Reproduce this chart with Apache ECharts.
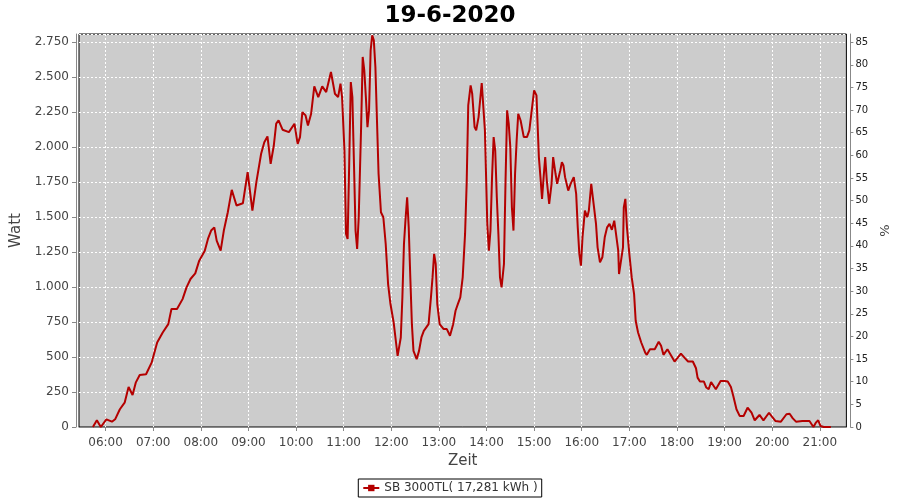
<!DOCTYPE html>
<html>
<head>
<meta charset="utf-8">
<script src="https://cdn.jsdelivr.net/npm/echarts@6/dist/echarts.min.js"></script>
<style>html,body{margin:0;padding:0;background:#fff}#c{width:900px;height:500px}</style>
</head>
<body>
<div id="c"></div>
<script>
const times = ["05:44","05:49","05:54","06:01","06:08","06:12","06:18","06:24","06:29","06:34","06:38","06:43","06:51","06:58","07:05","07:12","07:19","07:23","07:30","07:37","07:42","07:47","07:53","07:58","08:05","08:09","08:13","08:17","08:20","08:25","08:29","08:34","08:39","08:45","08:53","08:59","09:05","09:10","09:16","09:20","09:24","09:28","09:32","09:35","09:38","09:43","09:51","09:58","10:02","10:05","10:08","10:12","10:15","10:19","10:23","10:28","10:33","10:38","10:44","10:49","10:53","10:56","10:58","11:01","11:03","11:05","11:07","11:09","11:11","11:13","11:15","11:17","11:19","11:22","11:24","11:26","11:28","11:30","11:32","11:34","11:36","11:38","11:40","11:42","11:44","11:47","11:50","11:53","11:56","11:59","12:03","12:06","12:08","12:12","12:14","12:16","12:18","12:20","12:22","12:24","12:26","12:28","12:32","12:35","12:38","12:41","12:47","12:50","12:52","12:54","12:56","12:58","13:01","13:06","13:10","13:14","13:18","13:21","13:24","13:27","13:30","13:33","13:35","13:37","13:40","13:42","13:45","13:47","13:50","13:54","13:56","13:58","14:01","14:03","14:05","14:07","14:09","14:11","14:13","14:15","14:17","14:19","14:22","14:24","14:26","14:28","14:30","14:32","14:34","14:36","14:38","14:40","14:43","14:47","14:51","14:54","14:57","15:00","15:03","15:06","15:08","15:10","15:12","15:14","15:16","15:19","15:22","15:24","15:27","15:29","15:33","15:35","15:37","15:39","15:43","15:46","15:50","15:53","15:55","15:57","15:59","16:01","16:04","16:07","16:09","16:12","16:14","16:18","16:20","16:23","16:26","16:29","16:32","16:35","16:38","16:41","16:43","16:46","16:47","16:49","16:52","16:53","16:55","16:57","17:00","17:03","17:06","17:08","17:11","17:15","17:20","17:22","17:26","17:32","17:37","17:40","17:43","17:48","17:53","17:57","18:01","18:05","18:10","18:14","18:20","18:24","18:26","18:29","18:34","18:37","18:40","18:43","18:49","18:55","19:00","19:04","19:08","19:11","19:15","19:19","19:24","19:29","19:34","19:38","19:44","19:49","19:56","20:00","20:04","20:11","20:18","20:22","20:26","20:30","20:38","20:47","20:52","20:55","20:58","21:01","21:05","21:09","21:14"];
const watt = [0,48,0,55,38,55,127,174,286,229,317,372,377,460,604,675,735,843,843,914,998,1058,1098,1189,1260,1344,1404,1427,1332,1260,1404,1535,1695,1583,1599,1821,1547,1750,1953,2036,2077,1881,2012,2168,2191,2125,2108,2168,2024,2072,2251,2227,2155,2239,2435,2358,2435,2394,2537,2382,2358,2454,2358,1976,1380,1344,1881,2466,2358,1881,1404,1273,1499,2143,2645,2549,2358,2143,2263,2692,2800,2764,2573,2191,1810,1535,1499,1308,1022,879,747,604,508,640,926,1308,1487,1642,1427,1069,735,544,485,544,640,687,735,926,1069,1237,1165,879,735,700,700,652,735,831,880,926,1069,1380,1738,2299,2442,2382,2143,2120,2215,2459,2454,2120,1452,1260,1404,1786,2072,1976,1642,1380,1069,998,1165,1762,2263,2168,2000,1570,1404,1810,2048,2239,2191,2072,2072,2120,2263,2406,2370,1929,1786,1631,1786,1929,1762,1595,1738,1929,1810,1738,1833,1893,1869,1786,1690,1738,1786,1666,1427,1237,1153,1356,1547,1499,1547,1738,1642,1452,1284,1177,1213,1356,1427,1452,1409,1475,1463,1260,1093,1081,1284,1570,1631,1427,1237,1069,950,759,675,604,532,516,556,556,609,580,516,556,508,468,496,525,492,468,468,420,353,325,325,282,270,322,270,329,329,325,286,222,127,79,79,138,102,48,86,48,102,72,43,38,91,95,62,38,43,43,0,31,48,7,0,0,0];
const hourTicks = ["06:00","07:00","08:00","09:00","10:00","11:00","12:00","13:00","14:00","15:00","16:00","17:00","18:00","19:00","20:00","21:00"];
const titleText = "19-6-2020";
const seriesName = "SB 3000TL( 17,281 kWh )";

const toMin = s => { const p = s.split(":"); return (+p[0]) * 60 + (+p[1]); };
const pad = n => (n < 10 ? "0" : "") + n;
const fmtTime = m => pad(Math.floor(m / 60)) + ":" + pad(Math.round(m % 60));
const fmtWatt = v => { const s = String(Math.round(v)); return s.replace(/\B(?=(\d{3})+(?!\d))/g, "."); };
const data = times.map((t, i) => [toMin(t), watt[i]]);
const tickVals = hourTicks.map(toMin);
const FONT = "DejaVu Sans";

const chart = echarts.init(document.getElementById("c"), null, {renderer: "canvas"});
chart.setOption({
  animation: false,
  backgroundColor: "#ffffff",
  title: {text: titleText, left: "center", top: 0,
    textStyle: {fontFamily: FONT, fontSize: 23, fontWeight: "bold", color: "#000"}},
  legend: {
    bottom: 3, left: "center", data: [seriesName],
    borderColor: "#000", borderWidth: 1, padding: [3, 4, 3, 4], backgroundColor: "#fff",
    itemWidth: 16, itemHeight: 8, itemGap: 4,
    textStyle: {fontFamily: FONT, fontSize: 12, color: "#333"}
  },
  grid: {left: 79, right: 52, top: 34, bottom: 73, show: true,
    backgroundColor: "#cccccc", borderColor: "#000", borderWidth: 1, containLabel: false},
  xAxis: {
    type: "value", min: 326.5, max: 1293.5, offset: 4,
    name: "Zeit", nameLocation: "middle", nameGap: 22,
    nameTextStyle: {fontFamily: FONT, fontSize: 15, color: "#444"},
    axisLine: {show: true, lineStyle: {color: "#888"}},
    axisTick: {show: true, length: 4, customValues: tickVals, lineStyle: {color: "#888"}},
    axisLabel: {customValues: tickVals, formatter: v => fmtTime(v), margin: 6,
      fontFamily: FONT, fontSize: 12, color: "#444"},
    splitLine: {show: true, lineStyle: {color: "#fff", type: [2, 2], width: 1}}
  },
  yAxis: [{
    type: "value", min: 0, max: 2809, interval: 250, offset: 3, position: "left",
    name: "Watt", nameLocation: "middle", nameGap: 45,
    nameTextStyle: {fontFamily: FONT, fontSize: 15, color: "#444"},
    axisLine: {show: true, lineStyle: {color: "#888"}},
    axisTick: {show: true, length: 4, lineStyle: {color: "#888"}},
    axisLabel: {showMaxLabel: false, formatter: v => (v % 250 === 0 ? fmtWatt(v) : ""),
      margin: 7, fontFamily: FONT, fontSize: 12, color: "#444"},
    splitLine: {show: true, lineStyle: {color: "#fff", type: [2, 2], width: 1}}
  }, {
    type: "value", min: 0, max: 86.8, interval: 5, offset: 4, position: "right",
    name: "%", nameLocation: "middle", nameGap: 26,
    nameTextStyle: {fontFamily: FONT, fontSize: 13, color: "#444"},
    axisLine: {show: true, lineStyle: {color: "#888"}},
    axisTick: {show: true, length: 3, lineStyle: {color: "#888"}},
    axisLabel: {showMaxLabel: false, formatter: v => (v % 5 === 0 ? String(v) : ""),
      margin: 5, fontFamily: FONT, fontSize: 10, color: "#222"},
    splitLine: {show: false}
  }],
  series: [{
    name: seriesName, type: "line", data: data, yAxisIndex: 0,
    showSymbol: false, symbol: "rect", symbolSize: 3,
    lineStyle: {color: "#b40000", width: 2}, itemStyle: {color: "#b40000"},
    clip: true
  }]
});
</script>
</body>
</html>
